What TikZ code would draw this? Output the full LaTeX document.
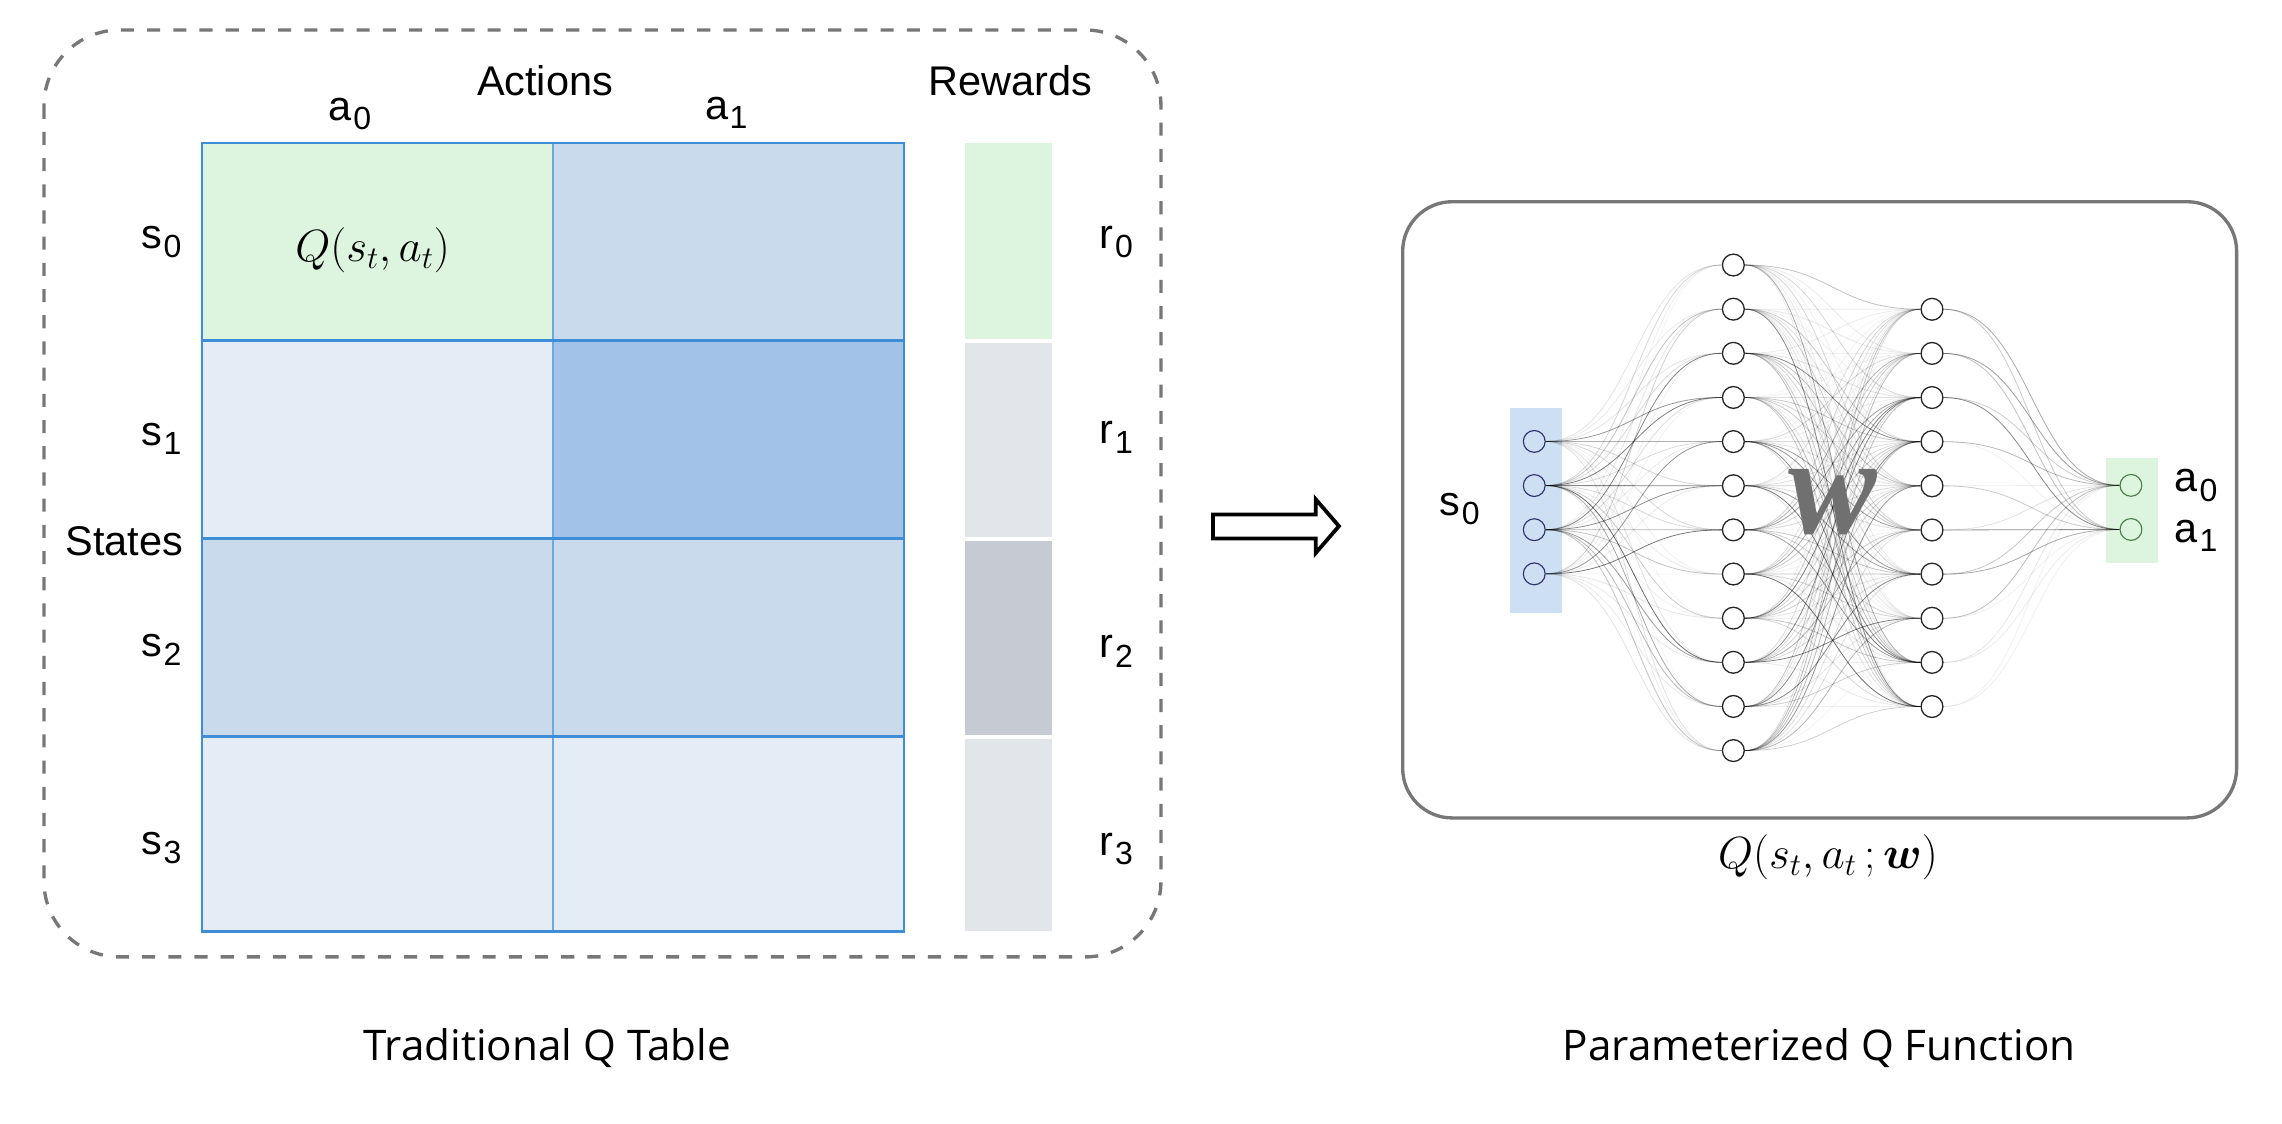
\RequirePackage{fix-cm}
\documentclass[tikz,border=0pt]{standalone}
\usepackage{amsmath}
\usepackage{bm}
\usepackage[no-math]{fontspec}
\setmainfont{Liberation Sans}
\newfontfamily\capfont{Open Sans}
\newfontfamily\wfont{Liberation Serif}
\usetikzlibrary{calc}
\definecolor{cgreen}{HTML}{DDF5DE}
\definecolor{clight}{HTML}{E4ECF6}
\definecolor{cmed}{HTML}{C9DAEC}
\definecolor{cdark}{HTML}{A3C2E7}
\definecolor{cgrid}{HTML}{3D8ED6}
\definecolor{cgridv}{HTML}{6FA8DC}
\definecolor{rgl}{HTML}{E2E6EA}
\definecolor{rgd}{HTML}{C6CBD3}
\definecolor{cbox}{HTML}{777777}
\definecolor{inbar}{HTML}{CDDFF3}
\definecolor{wgray}{HTML}{707070}
\newcommand{\sbl}[2]{#1\hspace{1pt}\raisebox{-6.3pt}{\fontsize{22}{22}\selectfont #2}}
\pgfdeclarelayer{back}
\pgfdeclarelayer{mid}
\pgfsetlayers{back,mid,main}
\begin{document}
\begin{tikzpicture}[x=1pt,y=-1pt,
  lab/.style={font=\fontsize{28.5}{32}\selectfont, inner sep=0pt, anchor=base},
  captext/.style={font=\capfont\fontsize{29}{32}\selectfont, inner sep=0pt, anchor=base},
  mathlab/.style={font=\fontsize{31}{34}\selectfont, inner sep=0pt},
  neuron/.style={circle, minimum size=15pt, inner sep=0pt, draw=black!85, line width=0.9pt, fill=white},
  inneuron/.style={circle, minimum size=15pt, inner sep=0pt, draw=black!60!blue!60!gray, line width=0.8pt},
  outneuron/.style={circle, minimum size=15pt, inner sep=0pt, draw=black!50!green!40!gray, line width=0.8pt},
  edge/.style={draw=black, line width=0.55pt}]
\useasboundingbox (0,0) rectangle (1568,772);

% ---------- left panel ----------
\draw[cbox, line width=2.3pt, dash pattern=on 9pt off 9pt, rounded corners=52pt]
  (30.2,20.6) rectangle (797.7,657.5);

% table cells
\fill[cgreen] (139,98.5) rectangle (380,234);
\fill[cmed]   (380,98.5) rectangle (621,234);
\fill[clight] (139,234) rectangle (380,370);
\fill[cdark]  (380,234) rectangle (621,370);
\fill[cmed]   (139,370) rectangle (380,506);
\fill[cmed]   (380,370) rectangle (621,506);
\fill[clight] (139,506) rectangle (380,640);
\fill[clight] (380,506) rectangle (621,640);
\draw[cgridv, line width=1.3pt] (380,98.5) -- (380,640);
\draw[cgrid, line width=1.5pt] (139,234) -- (621,234) (139,370) -- (621,370) (139,506) -- (621,506);
\draw[cgrid, line width=1.5pt] (139,98.5) rectangle (621,640);

% rewards
\fill[cgreen] (663,98.5) rectangle (723,233);
\fill[rgl]    (663,235.5) rectangle (723,369);
\fill[rgd]    (663,371.5) rectangle (723,505);
\fill[rgl]    (663,507.5) rectangle (723,640);

% labels
\node[lab] (act) at (374.5,65.3) {Actions};
\node[lab] (rew) at (694.5,65.3) {Rewards};
\node[lab] (ta0) at (240.5,82.5) {\sbl{a}{0}};
\node[lab] (ta1) at (499,82) {\sbl{a}{1}};
\node[lab] (st)  at (85.5,381.5) {States};
\node[lab] (s0)  at (111,170.5) {\sbl{s}{0}};
\node[lab] (s1)  at (111,306) {\sbl{s}{1}};
\node[lab] (s2)  at (111,451) {\sbl{s}{2}};
\node[lab] (s3)  at (111,587) {\sbl{s}{3}};
\node[lab] (r0)  at (767,170.5) {\sbl{r}{0}};
\node[lab] (r1)  at (767,305) {\sbl{r}{1}};
\node[lab] (r2)  at (767,452) {\sbl{r}{2}};
\node[lab] (r3)  at (767,588) {\sbl{r}{3}};
\node[mathlab] (qsa) at (256,172) {$Q(s_t,a_t)$};
\node[captext] (capL) at (376,729) {Traditional Q Table};

% ---------- arrow ----------
\draw[line width=2.6pt, line join=miter, fill=white]
  (833.5,353.5) -- (904,353.5) -- (904,343) -- (920,361.5) -- (904,380) -- (904,370) -- (833.5,370) -- cycle;

% ---------- right panel ----------
\draw[cbox, line width=2.3pt, rounded corners=34pt] (963.8,138.6) rectangle (1536.8,562);

\begin{pgfonlayer}{back}
  \fill[inbar] (1037.5,280.6) rectangle (1073,421.4);
  \fill[cgreen] (1447,315) rectangle (1482.5,387);
\end{pgfonlayer}

\foreach \k in {1,...,4}
  \node[inneuron] (i\k) at (1054.2,{303.3+30.33*(\k-1)}) {};
\foreach \k in {1,...,12}
  \node[neuron] (h\k) at (1191,{182.1+30.33*(\k-1)}) {};
\foreach \k in {1,...,10}
  \node[neuron] (g\k) at (1327.5,{212.5+30.33*(\k-1)}) {};
\node[outneuron] (o1) at (1464.2,333.5) {};
\node[outneuron] (o2) at (1464.2,363.8) {};

\pgfmathsetseed{7}
\begin{pgfonlayer}{mid}
  \foreach \a in {1,...,4}
    \foreach \b in {1,...,12} {
      \pgfmathsetmacro\op{0.04+0.6*rnd*rnd}
      \draw[edge, draw opacity=\op] (i\a.east) .. controls +(60,0) and +(-60,0) .. (h\b.west);
    }
  \foreach \a in {1,...,12}
    \foreach \b in {1,...,10} {
      \pgfmathsetmacro\op{0.04+0.6*rnd*rnd}
      \draw[edge, draw opacity=\op] (h\a.east) .. controls +(60,0) and +(-60,0) .. (g\b.west);
    }
  \foreach \a in {1,...,10}
    \foreach \b in {1,2} {
      \pgfmathsetmacro\op{0.04+0.6*rnd*rnd}
      \draw[edge, draw opacity=\op] (g\a.east) .. controls +(60,0) and +(-60,0) .. (o\b.west);
    }
\end{pgfonlayer}

\node[text=wgray, inner sep=0pt] (W) at (1259,345) {\scalebox{0.95}[1]{\wfont\bfseries\itshape\fontsize{96}{96}\selectfont w}};

\node[lab] (ns0) at (1003,354) {\sbl{s}{0}};
\node[lab] (na0) at (1509,338) {\sbl{a}{0}};
\node[lab] (na1) at (1509,372.5) {\sbl{a}{1}};
\node[mathlab] (qsaw) at (1256,589) {$Q(s_t,a_t\,;\bm{w})$};
\node[captext] (capR) at (1250,729) {Parameterized Q Function};
\end{tikzpicture}
\end{document}
